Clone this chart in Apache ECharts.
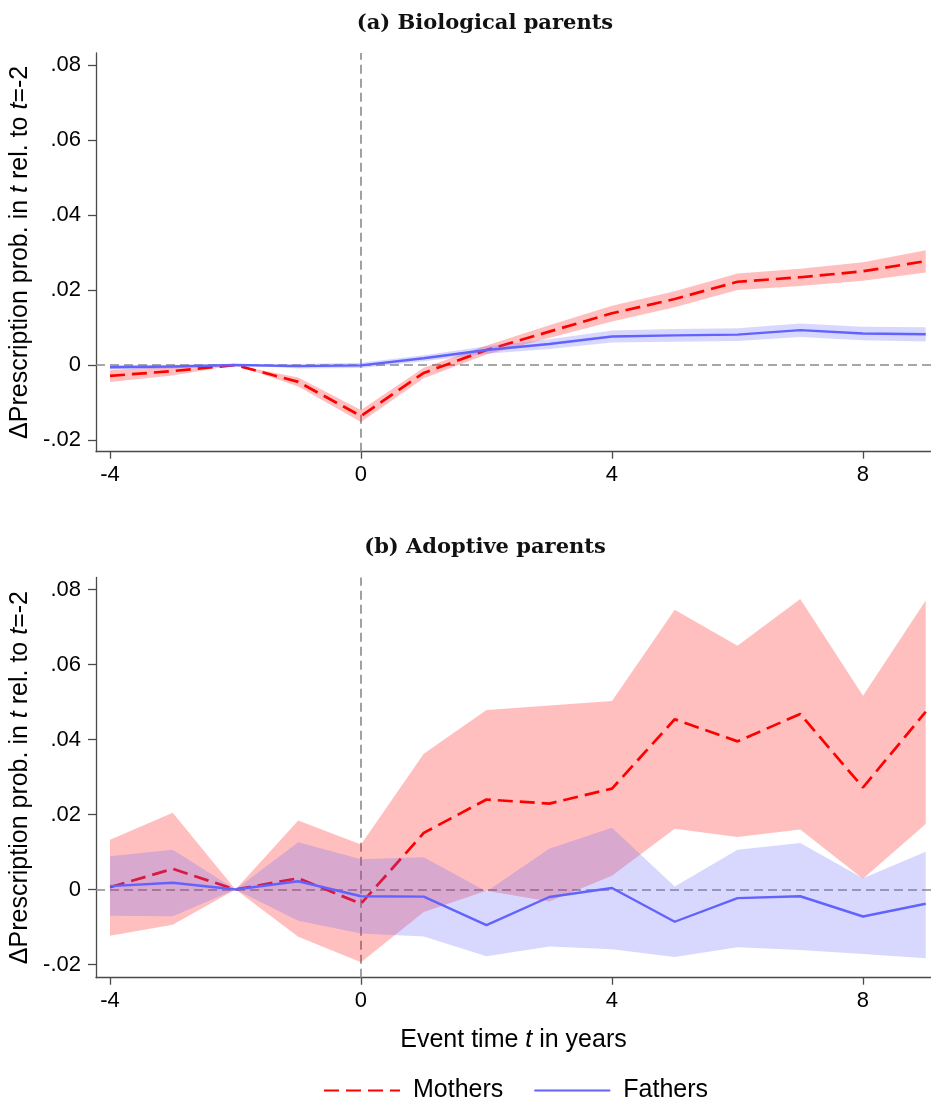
<!DOCTYPE html>
<html>
<head>
<meta charset="utf-8">
<script src="https://cdn.jsdelivr.net/npm/echarts@6/dist/echarts.min.js"></script>
<style>
  html, body { margin: 0; padding: 0; background: #fff; }
</style>
</head>
<body>
<div id="chart" style="width:931px;height:1102px"></div>
<script>
// event time
const t = [-4, -3, -2, -1, 0, 1, 2, 3, 4, 5, 6, 7, 8, 9]

// (a) biological parents
const bioMothers   = [-0.0029, -0.0016, 0, -0.0045, -0.0136, -0.0021, 0.0040, 0.0089, 0.0138, 0.0176, 0.0222, 0.0234, 0.0250, 0.0277]
const bioMothersLo = [-0.0045, -0.0028, 0, -0.0057, -0.0152, -0.0035, 0.0028, 0.0072, 0.0116, 0.0154, 0.0200, 0.0211, 0.0225, 0.0247]
const bioMothersHi = [-0.0014, -0.0004, 0, -0.0033, -0.0120, -0.0007, 0.0052, 0.0106, 0.0158, 0.0197, 0.0244, 0.0257, 0.0274, 0.0306]
const bioFathers   = [-0.0006, -0.0004, 0, -0.0003, -0.0001, 0.0018, 0.0040, 0.0056, 0.0076, 0.0079, 0.0081, 0.0093, 0.0084, 0.0082]
const bioFathersLo = [-0.0012, -0.0009, 0, -0.0009, -0.0008, 0.0010, 0.0030, 0.0043, 0.0060, 0.0062, 0.0064, 0.0075, 0.0066, 0.0063]
const bioFathersHi = [0.0000, 0.0001, 0, 0.0003, 0.0006, 0.0026, 0.0050, 0.0069, 0.0092, 0.0096, 0.0098, 0.0111, 0.0102, 0.0101]

// (b) adoptive parents
const adoMothers   = [0.0006, 0.0055, 0, 0.0030, -0.0038, 0.0151, 0.0240, 0.0229, 0.0269, 0.0454, 0.0395, 0.0468, 0.0272, 0.0474]
const adoMothersLo = [-0.0123, -0.0094, 0, -0.0126, -0.0194, -0.0060, -0.0003, -0.0032, 0.0037, 0.0162, 0.0140, 0.0160, 0.0029, 0.0175]
const adoMothersHi = [0.0133, 0.0205, 0, 0.0184, 0.0120, 0.0362, 0.0479, 0.0491, 0.0503, 0.0746, 0.0650, 0.0775, 0.0517, 0.0771]
const adoFathers   = [0.0009, 0.0018, 0, 0.0022, -0.0018, -0.0019, -0.0095, -0.0020, 0.0004, -0.0086, -0.0023, -0.0018, -0.0072, -0.0038]
const adoFathersLo = [-0.0070, -0.0071, 0, -0.0083, -0.0117, -0.0125, -0.0178, -0.0152, -0.0159, -0.0180, -0.0154, -0.0161, -0.0172, -0.0183]
const adoFathersHi = [0.0089, 0.0106, 0, 0.0126, 0.0081, 0.0086, -0.0005, 0.0109, 0.0165, 0.0008, 0.0106, 0.0124, 0.0030, 0.0101]

// tick labels
const xTicks = [-4, 0, 4, 8]
const yTicks = [-0.02, 0, 0.02, 0.04, 0.06, 0.08]

const RED = '#ff0000'
const BLUE = '#6262ff'
const SANS = 'Liberation Sans, Arial, sans-serif'

const pts = (ys) => t.map((x, i) => [x, ys[i]])

// confidence band: one polygon through lower points and back along upper points
function band(lo, hi, color, idx, z) {
  return {
    type: 'custom', xAxisIndex: idx, yAxisIndex: idx, silent: true, z: z,
    data: t.map((x, i) => [x, lo[i], hi[i]]),
    renderItem: function (params, api) {
      if (params.dataIndex !== 0) return
      const poly = []
      t.forEach((x, i) => poly.push(api.coord([x, lo[i]])))
      for (let i = t.length - 1; i >= 0; i--) poly.push(api.coord([t[i], hi[i]]))
      return {
        type: 'polygon',
        shape: { points: poly },
        style: { fill: color, opacity: 0.25, stroke: null }
      }
    }
  }
}

// dashed reference lines at t=0 and y=0
function refLines(idx) {
  return {
    type: 'line', xAxisIndex: idx, yAxisIndex: idx, data: [], silent: true, z: 1,
    markLine: {
      silent: true, symbol: 'none', z: 1, animation: false,
      label: { show: false },
      lineStyle: { color: '#8a8a8a', type: [9, 5], width: 1.6 },
      data: [{ xAxis: 0 }, { yAxis: 0 }]
    }
  }
}

function line(name, ys, color, dashed, idx, z) {
  return {
    name: name, type: 'line', xAxisIndex: idx, yAxisIndex: idx, data: pts(ys),
    symbol: 'none', z: z, silent: true,
    lineStyle: { color: color, width: dashed ? 2.7 : 2.4, type: dashed ? [15, 7] : 'solid' },
    itemStyle: { color: color }
  }
}

function xAxis(idx, named) {
  return {
    type: 'value', gridIndex: idx, min: -4.223, max: 9.084,
    axisLine: { show: true, onZero: false, lineStyle: { color: '#4a4a4a', width: 1.3 } },
    axisTick: { show: true, length: 7, customValues: xTicks, lineStyle: { color: '#4a4a4a', width: 1.3 } },
    axisLabel: { customValues: xTicks, margin: 12, fontFamily: SANS, fontSize: 22, color: '#000' },
    splitLine: { show: false },
    name: named ? 'Event time {i|t} in years' : '',
    nameLocation: 'middle', nameGap: 50,
    nameTextStyle: {
      fontFamily: SANS, fontSize: 25, color: '#000',
      rich: { i: { fontFamily: SANS, fontSize: 25, fontStyle: 'italic', color: '#000' } }
    }
  }
}

function yAxis(idx, min) {
  return {
    type: 'value', gridIndex: idx, min: min, max: 0.0832,
    axisLine: { show: true, onZero: false, lineStyle: { color: '#4a4a4a', width: 1.3 } },
    axisTick: { show: true, length: 8, customValues: yTicks, lineStyle: { color: '#4a4a4a', width: 1.3 } },
    axisLabel: {
      customValues: yTicks, margin: 15, fontFamily: SANS, fontSize: 22, color: '#000',
      formatter: (v) => Math.abs(v) < 1e-9 ? '0' : v.toFixed(2).replace(/^(-?)0\./, '$1.')
    },
    splitLine: { show: false },
    name: '\u0394Prescription prob. in {i|t} rel. to {i|t}=-2',
    nameLocation: 'middle', nameGap: 60,
    nameTextStyle: {
      fontFamily: SANS, fontSize: 25, color: '#000',
      rich: { i: { fontFamily: SANS, fontSize: 25, fontStyle: 'italic', color: '#000' } }
    }
  }
}

const chart = echarts.init(document.getElementById('chart'), null, { renderer: 'canvas' })

const titleStyle = { fontFamily: 'DejaVu Serif, serif', fontWeight: 'bold', fontSize: 21, color: '#111' }

chart.setOption({
  animation: false,
  backgroundColor: '#fff',
  title: [
    { text: '(a) Biological parents', left: 480, top: 8, textAlign: 'center', textStyle: titleStyle },
    { text: '(b) Adoptive parents', left: 480, top: 532, textAlign: 'center', textStyle: titleStyle }
  ],
  legend: {
    data: ['Mothers', 'Fathers'],
    left: 318, top: 1073,
    itemWidth: 76, itemHeight: 16, itemGap: 30,
    itemStyle: { opacity: 0 },
    textStyle: { fontFamily: SANS, fontSize: 25, color: '#000', padding: [0, 0, 0, 8] }
  },
  grid: [
    { left: 96, right: 0, top: 53, height: 398.7, containLabel: false, outerBoundsMode: 'none' },
    { left: 96, right: 0, top: 577.5, height: 400.2, containLabel: false, outerBoundsMode: 'none' }
  ],
  xAxis: [xAxis(0, false), xAxis(1, true)],
  yAxis: [yAxis(0, -0.02311), yAxis(1, -0.02352)],
  series: [
    refLines(0),
    band(bioMothersLo, bioMothersHi, RED, 0, 2),
    line('Mothers', bioMothers, RED, true, 0, 3),
    band(bioFathersLo, bioFathersHi, BLUE, 0, 4),
    line('Fathers', bioFathers, BLUE, false, 0, 5),
    refLines(1),
    band(adoMothersLo, adoMothersHi, RED, 1, 2),
    line('Mothers', adoMothers, RED, true, 1, 3),
    band(adoFathersLo, adoFathersHi, BLUE, 1, 4),
    line('Fathers', adoFathers, BLUE, false, 1, 5)
  ]
})
</script>
</body>
</html>
